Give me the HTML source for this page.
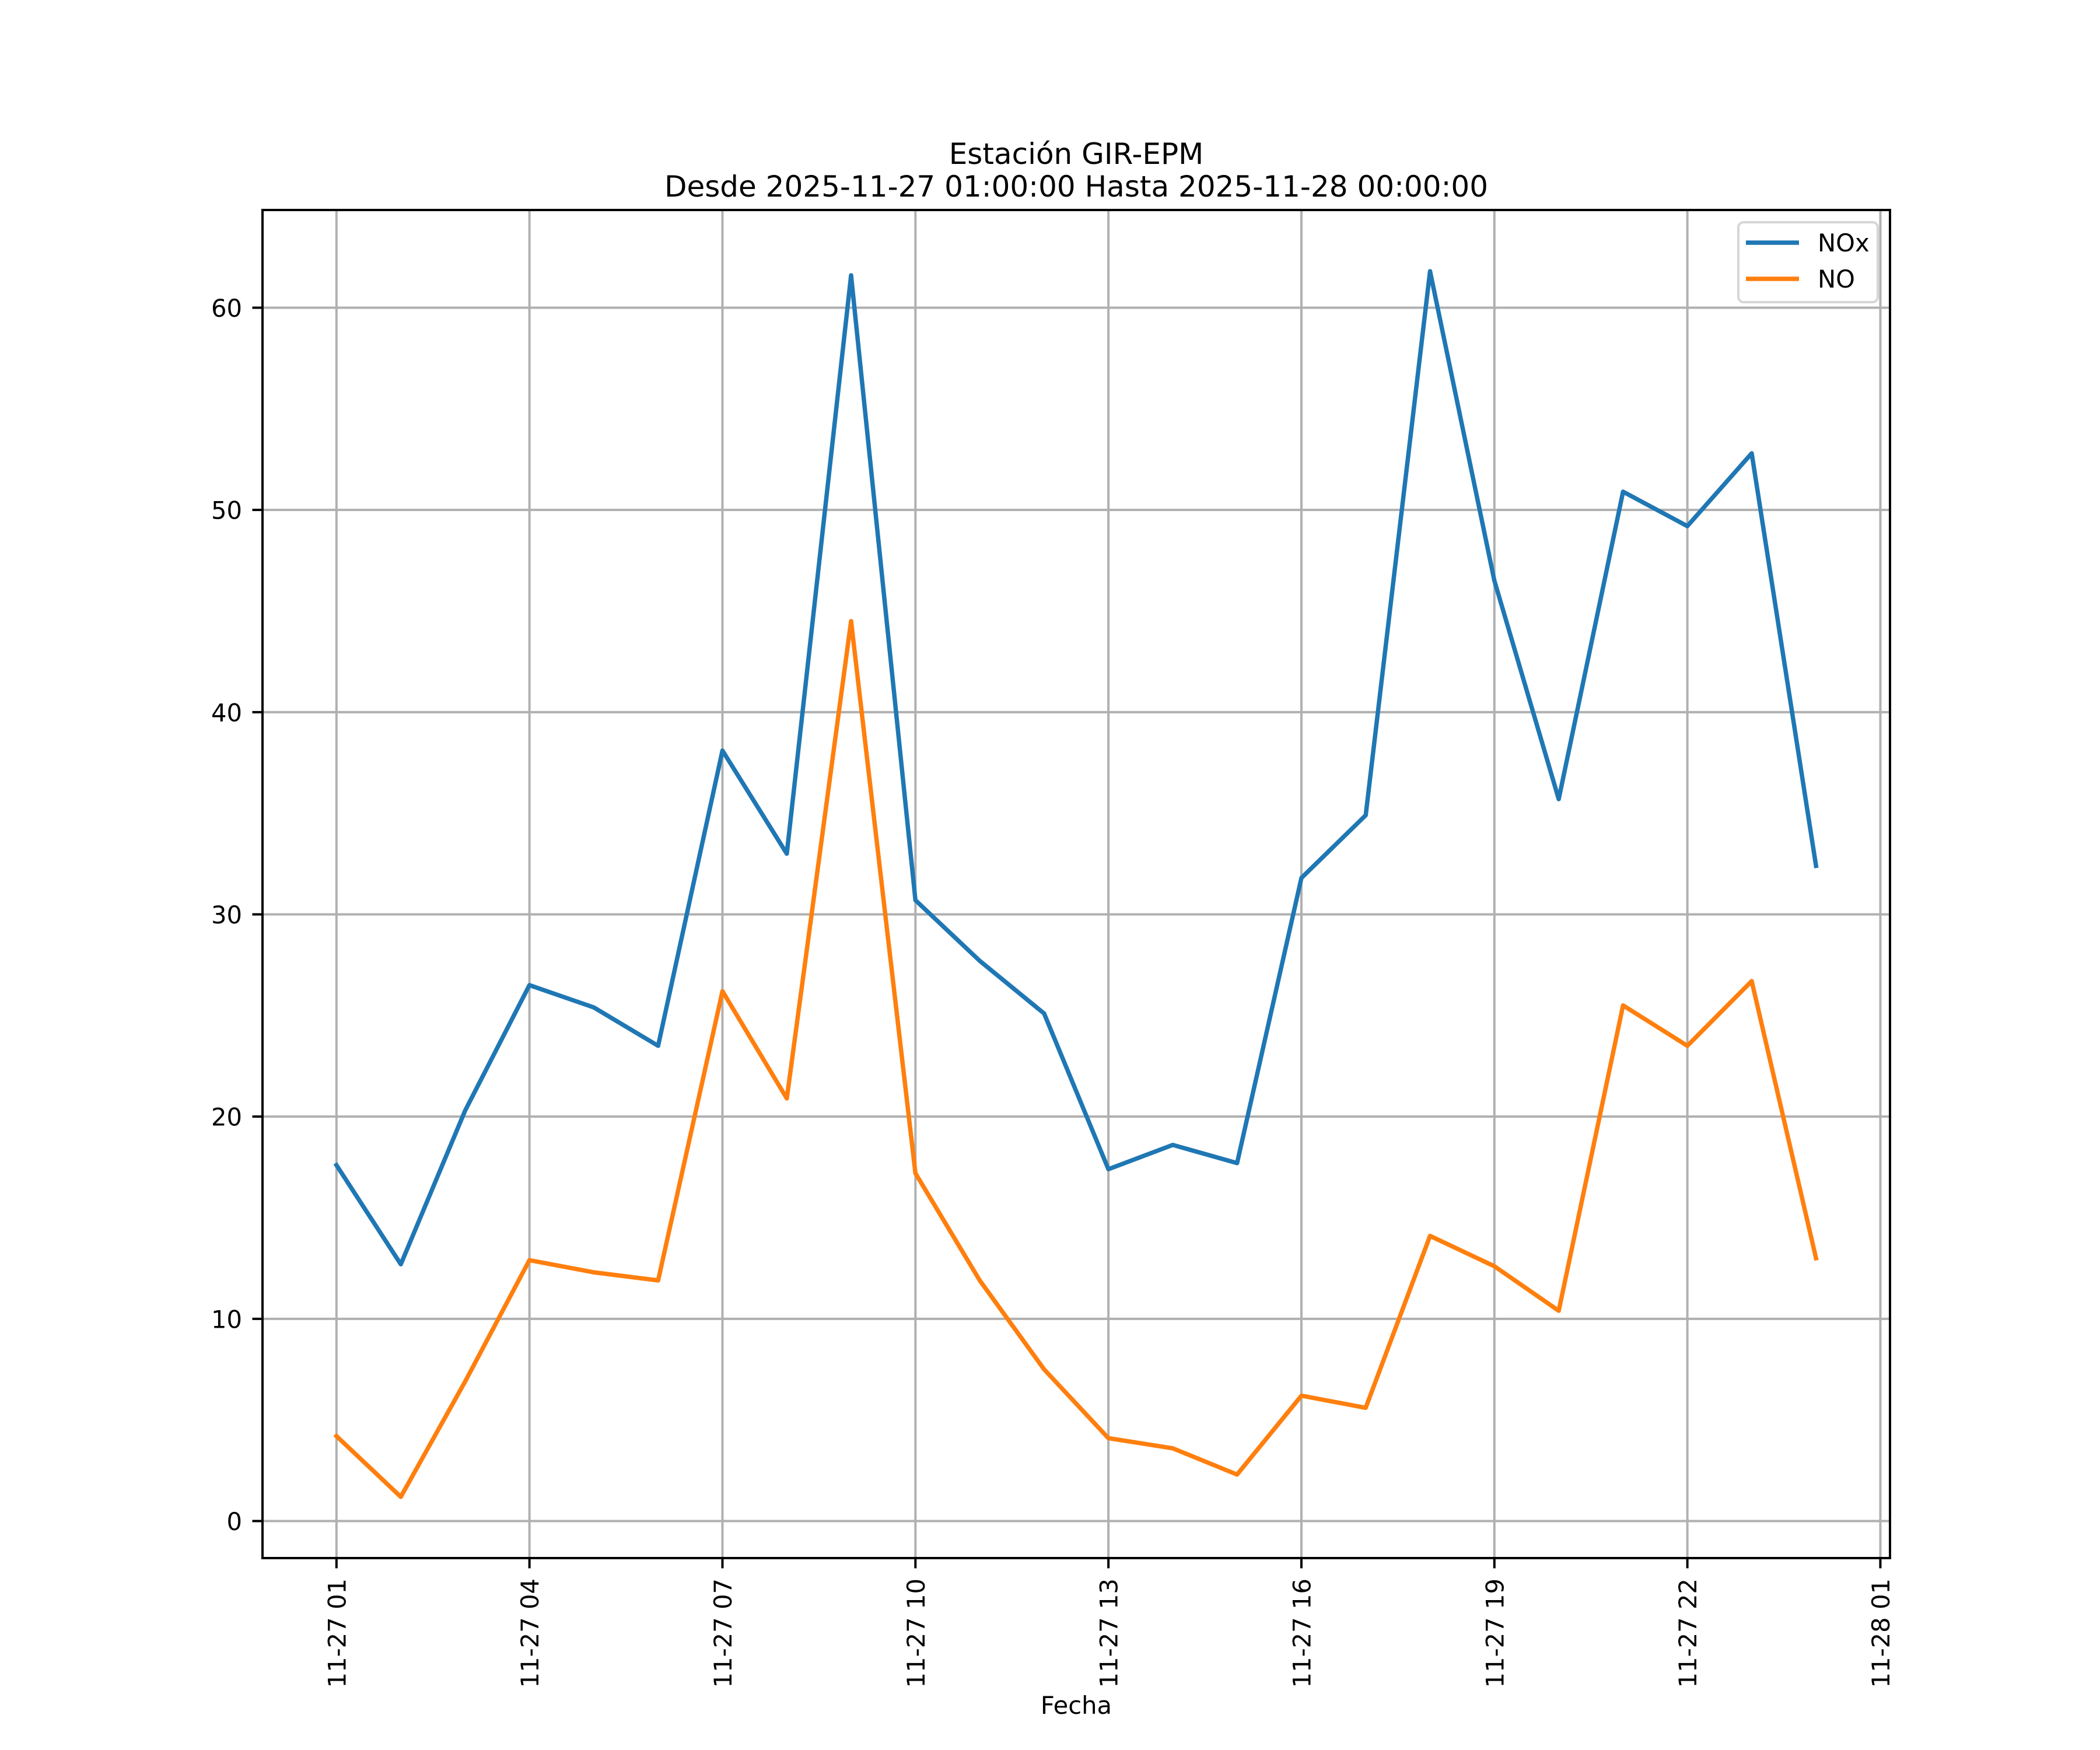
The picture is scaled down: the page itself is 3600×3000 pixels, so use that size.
<!DOCTYPE html>
<html><head><meta charset="utf-8">
<style>
html,body{margin:0;padding:0;background:#fff;}
svg{display:block;font-family:"DejaVu Sans","Liberation Sans",sans-serif;}
</style></head>
<body>
<svg id="chart" width="3600" height="3000" viewBox="0 0 3600 3000" xmlns="http://www.w3.org/2000/svg">
<rect x="0" y="0" width="3600" height="3000" fill="#fff"/>
<g id="grid"></g>
<g id="series"></g>
<rect x="450" y="360" width="2790" height="2311" fill="none" stroke="#000" stroke-width="4"/>
<g id="ticks"></g>
<text x="1845" y="281" font-size="50" text-anchor="middle">Estación GIR-EPM</text>
<text x="1845" y="337" font-size="50" text-anchor="middle">Desde 2025-11-27 01:00:00 Hasta 2025-11-28 00:00:00</text>
<text x="1845" y="2938" font-size="41.7" text-anchor="middle">Fecha</text>
<g>
<rect x="2980" y="381" width="239" height="137" rx="9" fill="#fff" fill-opacity="0.8" stroke="#d6d6d6" stroke-width="4"/>
<line x1="2993" y1="416" x2="3084" y2="416" stroke="#1f77b4" stroke-width="7.5"/>
<text x="3116" y="431" font-size="41.7">NOx</text>
<line x1="2993" y1="478" x2="3084" y2="478" stroke="#ff7f0e" stroke-width="7.5"/>
<text x="3116" y="493" font-size="41.7">NO</text>
</g>
</svg>
<script>
const hours = [0,1,2,3,4,5,6,7,8,9,10,11,12,13,14,15,16,17,18,19,20,21,22,23];
const noxValues = [17.6,12.7,20.3,26.5,25.4,23.5,38.1,33.0,61.6,30.7,27.7,25.1,17.4,18.6,17.7,31.8,34.9,61.8,46.5,35.7,50.9,49.2,52.8,32.4];
const noValues = [4.2,1.2,6.9,12.9,12.3,11.9,26.2,20.9,44.5,17.2,11.9,7.5,4.1,3.6,2.3,6.2,5.6,14.1,12.6,10.4,25.5,23.5,26.7,13.0];
const xTickHours = [0,3,6,9,12,15,18,21,24];
const xTickLabels = ["11-27 01","11-27 04","11-27 07","11-27 10","11-27 13","11-27 16","11-27 19","11-27 22","11-28 01"];
const yTicks = [0,10,20,30,40,50,60];

const NS = "http://www.w3.org/2000/svg";
const L=450,R=3240,T=360,B=2671;
const all = noxValues.concat(noValues);
const dmin=Math.min(...all), dmax=Math.max(...all), dr=dmax-dmin;
const ymin=dmin-0.05*dr, ymax=dmax+0.05*dr;
const hmin=hours[0], hmax=hours[hours.length-1], hr=hmax-hmin;
const xmin=hmin-0.05*hr, xmax=hmax+0.05*hr;
function X(h){return L+(h-xmin)/(xmax-xmin)*(R-L);}
function Y(v){return B-(v-ymin)/(ymax-ymin)*(B-T);}
function mk(tag,attrs,parent){const e=document.createElementNS(NS,tag);for(const k in attrs)e.setAttribute(k,attrs[k]);parent.appendChild(e);return e;}
const grid=document.getElementById('grid'), ticks=document.getElementById('ticks'), series=document.getElementById('series');

xTickHours.forEach((h,i)=>{
  const x=X(h);
  const g=mk('line',{x1:x,y1:T,x2:x,y2:B,stroke:'#b0b0b0','stroke-width':4},grid);
  
  
  const t=mk('line',{x1:x,y1:B,x2:x,y2:B+17.5,stroke:'#000','stroke-width':4},ticks);
  
  
  const lab=mk('text',{x:0,y:0,'font-size':41.7,'text-anchor':'end',transform:'translate('+(x+15.5)+','+(B+35)+') rotate(-90)'},ticks);
  lab.textContent=xTickLabels[i];
  
  
});
yTicks.forEach(v=>{
  const y=Y(v);
  const g=mk('line',{x1:L,y1:y,x2:R,y2:y,stroke:'#b0b0b0','stroke-width':4},grid);
  
  
  const t=mk('line',{x1:L-17.5,y1:y,x2:L,y2:y,stroke:'#000','stroke-width':4},ticks);
  
  
  const lab=mk('text',{x:L-35,y:y+15.5,'font-size':41.7,'text-anchor':'end'},ticks);
  lab.textContent=String(v);
  
  
});
function line(vals,color,name){
  const pts=vals.map((v,i)=>X(hours[i]).toFixed(1)+','+Y(v).toFixed(1)).join(' ');
  const p=mk('polyline',{points:pts,fill:'none',stroke:color,'stroke-width':7.5,'stroke-linejoin':'round','stroke-linecap':'square'},series);
  
  
}
line(noxValues,'#1f77b4','nox-line');
line(noValues,'#ff7f0e','no-line');
</script>
</body></html>
